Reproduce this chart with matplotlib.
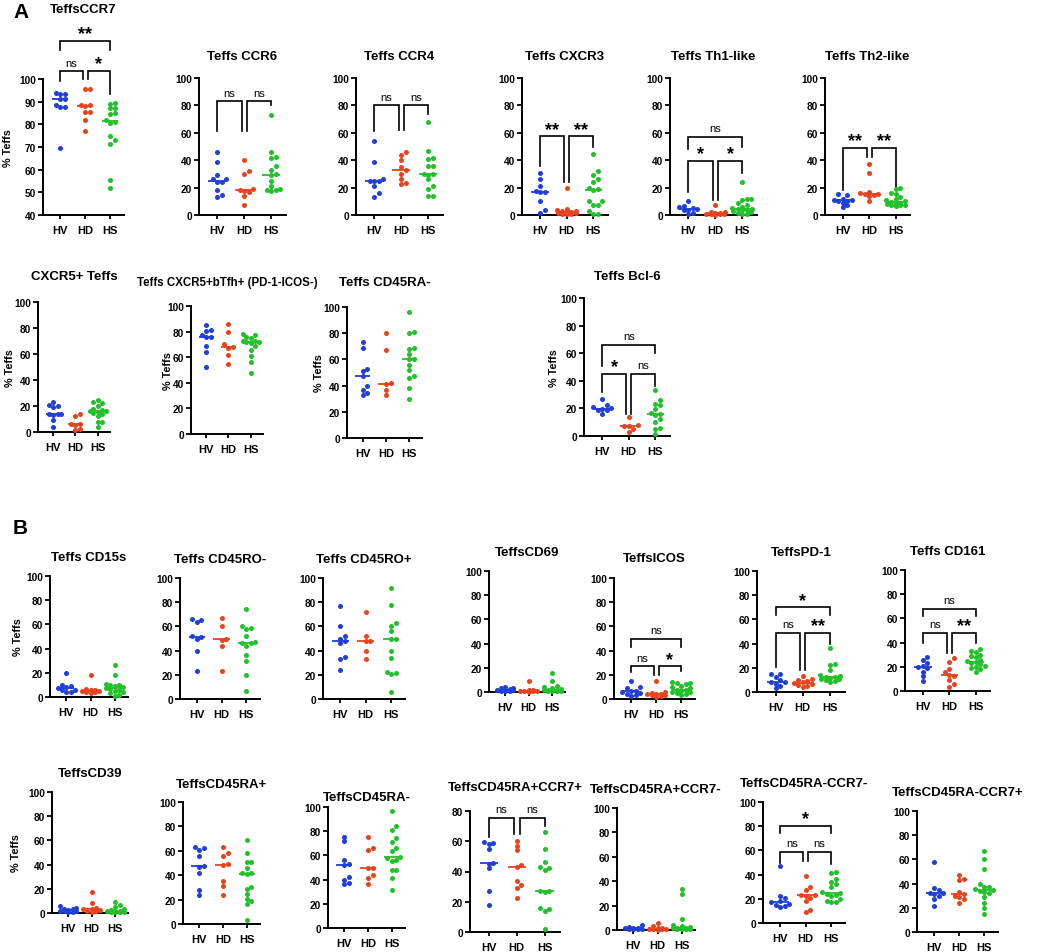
import matplotlib
matplotlib.use("Agg")
import matplotlib.pyplot as plt
import numpy as np

plt.rcParams['font.family'] = ['Liberation Sans', 'DejaVu Sans']

groups = ["HV", "HD", "HS"]
colors = ["#1f3fd6", "#e8431e", "#22c02a"]

# ---------------- data (% Teffs) ----------------
# Panel A
ccr7_hv = [93.5, 93.5, 94, 91, 91, 88.5, 87.5, 87.5, 69.5]
ccr7_hd = [95.5, 95.5, 88.5, 88.5, 88, 85.5, 85.5, 82, 77]
ccr7_hs = [89.5, 89, 87, 87, 85, 84.5, 82, 81, 80.5, 75, 73, 71.5, 55.5, 52]

ccr6_hv = [46, 39, 29, 26, 26, 24, 24, 18, 14.5, 13]
ccr6_hd = [40.5, 32, 30, 19, 18, 17.5, 17, 14, 7]
ccr6_hs = [73, 46, 42, 41.5, 36, 33, 30, 29, 25, 21, 19, 18.5, 18, 17.5]

ccr4_hv = [54, 39, 26, 25, 25, 24.5, 21, 16, 13]
ccr4_hd = [46, 44, 40, 35, 33, 30, 26, 23, 22.5]
ccr4_hs = [68, 47, 41.5, 41, 36, 35.5, 30, 30, 26, 29.5, 21, 19, 14, 14]

cxcr3_hv = [31, 26, 21, 17.5, 17, 17, 10, 3.5, 1.5]
cxcr3_hd = [19.5, 4.5, 3.5, 3, 3, 2.5, 2, 1.5, 1.5, 1, 0.5, 0.5]
cxcr3_hs = [44.5, 32, 29.5, 26, 24, 19.5, 19, 18.5, 10.5, 10, 7.5, 7.5, 3, 1, 0.5]

th1_hv = [10, 6.5, 5.5, 5, 4.5, 4, 3.5, 1.5, 0.5]
th1_hd = [7.5, 2.5, 2, 1.5, 1.5, 1, 1, 0.5, 0.5, 0.3]
th1_hs = [24, 12, 11.5, 11, 9, 7, 6, 5, 4.5, 4.5, 4, 3.5, 3, 2, 1.5, 0.5, 0.5]

th2_hv = [15, 14.5, 12, 11, 11, 10.5, 10, 9, 7, 5.5]
th2_hd = [37, 30.5, 17, 16, 15, 15, 14.5, 14, 10]
th2_hs = [20, 19, 16, 15.5, 13, 12, 11, 10, 9.5, 9, 8, 8, 7.5, 7, 7, 6.5]

cxcr5_hv = [23, 21, 20, 19.5, 13.5, 13.5, 13.5, 13, 9, 4]
cxcr5_hd = [14, 12.5, 6.5, 6, 5.5, 2, 1.5]
cxcr5_hs = [25, 23, 22, 20, 18, 17, 16.5, 16, 15.5, 15, 14, 12, 8, 7.5, 4]

btfh_hv = [85, 81, 80.5, 77, 76, 76, 69, 64, 52]
btfh_hd = [86, 80, 70, 68, 67, 62, 54.5]
btfh_hs = [78, 77.5, 76, 75, 73, 72.5, 72, 71.5, 71, 69, 66, 61, 56, 48]

ra_neg_a_hv = [73, 69, 53, 51.5, 47, 40, 37, 34, 33]
ra_neg_a_hd = [80, 67, 42, 41, 37, 33]
ra_neg_a_hs = [96, 81, 80, 68.5, 68, 64, 60, 60, 56, 52, 47, 46, 38, 30]

bcl6_hv = [27, 22.5, 21, 20, 19.5, 19, 18.5, 16]
bcl6_hd = [14, 8, 7.5, 7, 5, 3]
bcl6_hs = [33, 26, 23.5, 22.5, 19.5, 17, 16, 15, 12, 10.5, 6, 5, 1.5]

# Panel B
cd15s_hv = [19.5, 10, 9.5, 8, 7.5, 6, 5.5, 4.5, 4]
cd15s_hd = [18.5, 6.5, 6, 5.5, 5, 5, 4.5, 4, 3.5]
cd15s_hs = [26.5, 18, 10.5, 10, 10, 9.5, 8, 7.5, 7, 6, 5, 4, 3, 2, 1]

ro_neg_hv = [66.5, 65.5, 63.5, 52, 51, 50, 40, 23.5]
ro_neg_hd = [67, 60, 50, 48.5, 44, 23]
ro_neg_hs = [74, 60, 58.5, 57.5, 52, 47, 46.5, 46, 44, 36, 31, 19.5, 7]

ro_pos_hv = [76.5, 60, 52, 50, 48, 46, 34.5, 33, 24]
ro_pos_hd = [72, 52, 48, 48, 40, 33]
ro_pos_hs = [92, 78, 63, 60, 56, 50, 50, 40, 34, 22, 21.5, 21, 6]

cd69_hv = [4, 3, 3, 2.5, 2, 2, 1.5, 1, 1, 0.5]
cd69_hd = [9.5, 2, 1.5, 1, 1, 0.8, 0.5, 0.3]
cd69_hs = [15.5, 9, 5, 4, 3, 2.5, 2, 2, 1.5, 1.5, 1, 1, 0.8, 0.5]

icos_hv = [15, 10, 9, 7, 6.5, 6, 5, 4.5, 3, 2.5]
icos_hd = [14.5, 6, 5, 4.5, 4.5, 4, 3.5, 3, 2.5, 2]
icos_hs = [14, 13.5, 13, 12, 11, 10, 9, 7.5, 7.5, 7, 6, 5.5, 5, 4, 3]

pd1_hv = [15, 14.5, 12, 10, 8.5, 8, 7, 5, 3]
pd1_hd = [13.5, 11, 10, 9, 8, 7.5, 7, 6, 5, 4]
pd1_hs = [36, 23.5, 22, 18, 14, 13, 12.5, 12, 11.5, 11, 10.5, 10, 9, 8.5]

cd161_hv = [28, 26, 23, 21, 19.5, 19, 16, 12, 8]
cd161_hd = [27, 24, 18, 15.5, 13, 12, 9, 6, 3.5]
cd161_hs = [34.5, 33, 32, 30, 29, 28, 26, 24.5, 24, 23, 22, 21, 20, 19, 18, 16]

cd39_hv = [6, 4, 3.5, 3, 2.5, 2, 2, 1.5, 1, 0.5]
cd39_hd = [17.5, 8, 4, 3.5, 3, 2.5, 2, 1.5, 1]
cd39_hs = [9, 7, 5, 3.5, 2.5, 2, 1.5, 1.5, 1, 1, 0.5, 0.5]

ra_pos_hv = [63.5, 62, 61, 56, 47.5, 47, 42, 28, 23.5]
ra_pos_hd = [63, 58, 55.5, 49, 48.5, 35, 31, 24]
ra_pos_hs = [69, 58.5, 51, 51, 46, 42, 41.5, 41, 30, 29, 25, 20.5, 19, 16, 3.5]

ra_neg_b_hv = [75.5, 71.5, 56.5, 52.5, 52, 42, 40, 37.5, 36]
ra_neg_b_hd = [75, 66, 64.5, 50, 49.5, 44, 41, 36.5]
ra_neg_b_hs = [97, 84, 81, 74, 71, 66.5, 64, 58.5, 58, 56, 55, 48, 48, 41, 31]

rap_ccr7p_hv = [59.5, 59, 58, 55, 45.5, 45, 42, 27, 18]
rap_ccr7p_hd = [60, 57, 54, 44, 43, 34, 31, 29, 22.5]
rap_ccr7p_hs = [66, 55, 46, 43, 42, 41, 27, 27, 26.5, 16, 15, 14, 2]

rap_ccr7n_hv = [4, 2.5, 2, 1.5, 1.5, 1, 1, 0.5, 0.5]
rap_ccr7n_hd = [5.5, 3, 2, 1.5, 1, 0.8, 0.5, 0.5, 0.3]
rap_ccr7n_hs = [34, 29.5, 9, 4.5, 3, 2.5, 2, 2, 1.5, 1.5, 1, 1, 0.5, 0.5]

ran_ccr7n_hv = [47, 22.5, 21, 18.5, 17, 16, 15, 14, 13.5]
ran_ccr7n_hd = [39, 30, 27, 23.5, 23, 22.5, 21, 18, 11, 9]
ran_ccr7n_hs = [42.5, 41.5, 36.5, 34, 32, 30, 26, 24.5, 24, 23, 22.5, 20, 18.5, 17.5, 17]

ran_ccr7p_hv = [58, 36, 34.5, 32, 32, 31.5, 30, 27, 21.5]
ran_ccr7p_hd = [47, 44, 43, 33, 31.5, 30, 29, 27, 24]
ran_ccr7p_hs = [67, 60, 52, 39.5, 37.5, 37, 35.5, 34.5, 34, 33, 32, 29, 24, 20, 15]

titles = ["TeffsCCR7", "Teffs CCR6", "Teffs CCR4", "Teffs CXCR3", "Teffs Th1-like",
          "Teffs Th2-like", "CXCR5+ Teffs", "Teffs CXCR5+bTfh+ (PD-1-ICOS-)",
          "Teffs CD45RA-", "Teffs Bcl-6",
          "Teffs CD15s", "Teffs CD45RO-", "Teffs CD45RO+", "TeffsCD69", "TeffsICOS",
          "TeffsPD-1", "Teffs CD161",
          "TeffsCD39", "TeffsCD45RA+", "TeffsCD45RA-", "TeffsCD45RA+CCR7+",
          "TeffsCD45RA+CCR7-", "TeffsCD45RA-CCR7-", "TeffsCD45RA-CCR7+"]

series = [
    (ccr7_hv, ccr7_hd, ccr7_hs), (ccr6_hv, ccr6_hd, ccr6_hs), (ccr4_hv, ccr4_hd, ccr4_hs),
    (cxcr3_hv, cxcr3_hd, cxcr3_hs), (th1_hv, th1_hd, th1_hs), (th2_hv, th2_hd, th2_hs),
    (cxcr5_hv, cxcr5_hd, cxcr5_hs), (btfh_hv, btfh_hd, btfh_hs),
    (ra_neg_a_hv, ra_neg_a_hd, ra_neg_a_hs), (bcl6_hv, bcl6_hd, bcl6_hs),
    (cd15s_hv, cd15s_hd, cd15s_hs), (ro_neg_hv, ro_neg_hd, ro_neg_hs),
    (ro_pos_hv, ro_pos_hd, ro_pos_hs), (cd69_hv, cd69_hd, cd69_hs),
    (icos_hv, icos_hd, icos_hs), (pd1_hv, pd1_hd, pd1_hs), (cd161_hv, cd161_hd, cd161_hs),
    (cd39_hv, cd39_hd, cd39_hs), (ra_pos_hv, ra_pos_hd, ra_pos_hs),
    (ra_neg_b_hv, ra_neg_b_hd, ra_neg_b_hs), (rap_ccr7p_hv, rap_ccr7p_hd, rap_ccr7p_hs),
    (rap_ccr7n_hv, rap_ccr7n_hd, rap_ccr7n_hs), (ran_ccr7n_hv, ran_ccr7n_hd, ran_ccr7n_hs),
    (ran_ccr7p_hv, ran_ccr7p_hd, ran_ccr7p_hs),
]

# significance brackets: (group i, group j, label)
sig = {
    0: [(0, 1, "ns"), (1, 2, "*"), (0, 2, "**")],
    1: [(0, 1, "ns"), (1, 2, "ns")],
    2: [(0, 1, "ns"), (1, 2, "ns")],
    3: [(0, 1, "**"), (1, 2, "**")],
    4: [(0, 1, "*"), (1, 2, "*"), (0, 2, "ns")],
    5: [(0, 1, "**"), (1, 2, "**")],
    9: [(0, 1, "*"), (1, 2, "ns"), (0, 2, "ns")],
    14: [(0, 1, "ns"), (1, 2, "*"), (0, 2, "ns")],
    15: [(0, 1, "ns"), (1, 2, "**"), (0, 2, "*")],
    16: [(0, 1, "ns"), (1, 2, "**"), (0, 2, "ns")],
    20: [(0, 1, "ns"), (1, 2, "ns")],
    22: [(0, 1, "ns"), (1, 2, "ns"), (0, 2, "*")],
}

# ---------------- layout (pixels) ----------------
W, H = 1040, 953
# x_left, x_right, y_px_at_ymax, y_px_at_ymin, title_y, ylim, ylabel_x
layout = [
    (43, 124, 80, 216, 10, (40, 100), 8),
    (199, 286, 79, 216, 57, (0, 100), None),
    (356, 443, 79, 216, 57, (0, 100), None),
    (522, 608, 79, 216, 57, (0, 100), None),
    (670, 757, 79, 216, 57, (0, 100), None),
    (825, 910, 79, 216, 57, (0, 100), None),
    (38, 110, 303, 433, 277, (0, 100), 10),
    (191, 263, 307, 435, 283, (0, 100), 168),
    (347, 422, 308, 439, 283, (0, 100), 319),
    (584, 670, 299, 437, 277, (0, 100), 554),
    (50, 128, 577, 698, 558, (0, 100), 18),
    (180, 260, 579, 700, 560, (0, 100), None),
    (323, 405, 579, 700, 560, (0, 100), None),
    (489, 565, 572, 693, 553, (0, 100), None),
    (614, 695, 579, 700, 559, (0, 100), None),
    (757, 845, 572, 693, 553, (0, 100), None),
    (905, 990, 571, 692, 552, (0, 100), None),
    (52, 128, 793, 914, 774, (0, 100), 16),
    (183, 260, 803, 925, 785, (0, 100), None),
    (328, 405, 808, 929, 798, (0, 100), None),
    (470, 560, 812, 933, 788, (0, 80), None),
    (617, 695, 809, 931, 790, (0, 100), None),
    (763, 845, 803, 924, 784, (0, 100), None),
    (917, 998, 812, 933, 793, (0, 100), None),
]
title_sizes = {7: 8.3}
# bracket geometry per panel: (top, arm_i, arm_j) in data units, in same order as sig
brk = {
    0: [(103.5, 99, 100), (103.5, 100, 93.5), (116.8, 113, 113)],
    1: [(83, 61, 61), (83, 61, 80)],
    2: [(80, 61, 62), (80, 62, 74)],
    3: [(57.5, 36, 24), (57.5, 24, 50)],
    4: [(39.5, 17, 11), (39.5, 11, 31), (57, 48, 50)],
    5: [(49, 18, 42), (49, 42, 19)],
    9: [(45, 32, 16), (45, 16, 36), (66, 51, 60)],
    14: [(27, 22, 20), (27, 20, 23), (50, 43, 43)],
    15: [(49, 21, 18), (49, 18, 40), (70, 64, 64)],
    16: [(48, 40, 31), (48, 31, 40), (68, 62, 62)],
    20: [(75.5, 63, 65), (75.5, 65, 70)],
    22: [(59, 50, 51), (59, 51, 49), (80, 74, 74)],
}

XLIM = (-0.68, 2.55)
DOT_PX = 5.0
MAX_OFF = 0.36


def swarm(vals, px_per_x, px_per_y):
    order = np.argsort(vals)
    xs = np.zeros(len(vals))
    placed = []
    step = DOT_PX * 0.9 / px_per_x
    cands = [0.0]
    k = 1
    while k * step <= MAX_OFF + 1e-9:
        cands += [k * step, -k * step]
        k += 1
    cands += [MAX_OFF, -MAX_OFF]
    for idx in order:
        y = vals[idx] * px_per_y
        best, best_d = 0.0, -1.0
        for c in cands:
            d = min([np.hypot((c - px) * px_per_x, y - py) for (px, py) in placed] + [1e9])
            if d >= DOT_PX * 0.9:
                best = c
                break
            if d > best_d:
                best, best_d = c, d
        placed.append((best, y))
        xs[idx] = best
    return xs


fig = plt.figure(figsize=(W / 100, H / 100), dpi=100)

for p, (xl, xr, yt, yb, ty, ylim, ylx) in enumerate(layout):
    ax = fig.add_axes([xl / W, 1 - yb / H, (xr - xl) / W, (yb - yt) / H])
    ax.set_xlim(*XLIM)
    ax.set_ylim(*ylim)
    px_per_x = (xr - xl) / (XLIM[1] - XLIM[0])
    px_per_y = (yb - yt) / (ylim[1] - ylim[0])
    for g, vals in enumerate(series[p]):
        vals = np.asarray(vals, dtype=float)
        offs = swarm(vals, px_per_x, px_per_y)
        ax.scatter(g + offs, vals, s=13, color=colors[g], linewidths=0, zorder=3, clip_on=False)
        med = np.median(vals)
        ax.plot([g - 0.33, g + 0.33], [med, med], color=colors[g], lw=1.3, zorder=2,
                solid_capstyle='butt')
    for s in ("top", "right"):
        ax.spines[s].set_visible(False)
    for s in ("left", "bottom"):
        ax.spines[s].set_linewidth(1.4)
    if ylim[0] == 40:
        ax.set_yticks(np.arange(40, 101, 10))
    elif ylim[1] == 80:
        ax.set_yticks(np.arange(0, 81, 20))
    else:
        ax.set_yticks(np.arange(0, 101, 20))
    ax.set_xticks(range(3))
    ax.set_xticklabels(groups)
    ax.tick_params(axis='y', length=3.5, width=1.3, labelsize=7.3, pad=1.5)
    ax.tick_params(axis='x', length=3, width=1.3, labelsize=8, pad=4)
    for lab in ax.get_xticklabels() + ax.get_yticklabels():
        lab.set_fontweight('bold')
    fig.text((xl + xr) / 2 / W, 1 - ty / H, titles[p], ha='center', va='center',
             fontsize=title_sizes.get(p, 9.5), fontweight='bold')
    if ylx is not None:
        fig.text(ylx / W, 1 - (yt + yb) / 2 / H, "% Teffs", rotation=90, ha='center',
                 va='center', fontsize=7.8, fontweight='bold')
    if p in sig:
        for (i, j, lab), (top, ai, aj) in zip(sig[p], brk[p]):
            if j - i == 1:
                xi = i + (0.1 if i == 1 else 0.0)
                xj = j - (0.1 if j == 1 else 0.0)
            else:
                xi, xj = i, j
            ax.plot([xi, xi, xj, xj], [ai, top, top, aj], color='black', lw=1.2,
                    clip_on=False, solid_joinstyle='miter')
            if lab == "ns":
                ax.annotate(lab, ((xi + xj) / 2, top), xytext=(0, 2.5),
                            textcoords='offset points', ha='center', va='bottom',
                            fontsize=8, annotation_clip=False)
            else:
                ax.annotate(lab, ((xi + xj) / 2, top), xytext=(0, -1),
                            textcoords='offset points', ha='center', va='bottom',
                            fontsize=13, fontweight='bold', annotation_clip=False)

fig.text(21 / W, 1 - 12 / H, "A", ha='center', va='center', fontsize=15, fontweight='bold')
fig.text(20 / W, 1 - 529 / H, "B", ha='center', va='center', fontsize=15, fontweight='bold')

fig.savefig("out.png", dpi=100)
